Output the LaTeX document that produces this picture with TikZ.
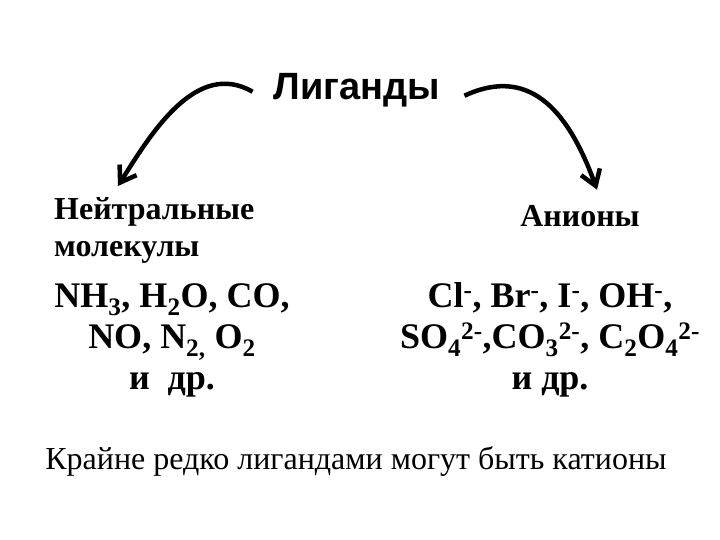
\documentclass[tikz,border=0pt]{standalone}
\usepackage{fontspec}
\setmainfont{Liberation Serif}
\newfontfamily\ligsans{Liberation Sans}
\usetikzlibrary{positioning,arrows.meta}

\newcommand{\sub}[1]{\textsubscript{#1}}
\newcommand{\sups}[1]{\textsuperscript{#1}}

\begin{document}
\begin{tikzpicture}[x=1pt, y=-1pt, inner sep=0pt,
    formula/.style={font=\fontsize{36}{41}\selectfont\bfseries, align=center},
    group/.style={font=\fontsize{32}{37}\selectfont\bfseries},
    ligarrow/.style={line width=4.5pt, -{Straight Barb[length=15pt,width=20pt]}}]
  \useasboundingbox (0,0) rectangle (720,540);
  \node[font=\ligsans\fontsize{38}{44}\selectfont\bfseries, anchor=base] (ligands) at (357,100) {Лиганды};%
  \node[group, align=left, anchor=north west] (neutral) at (54,197) {Нейтральные\\молекулы};%
  \node[group, anchor=base] (anions) at (580,226) {Анионы};%
  \node[formula] (neutlist) at (172,340) {NH\sub{3}, H\sub{2}O, CO,\\NO, N\sub{2,} O\sub{2}\\и~ др.};%
  \node[formula] (anlist) at (550,340) {Cl\sups{-}, Br\sups{-}, I\sups{-}, OH\sups{-},\\%
    SO\sub{4}\sups{2-},CO\sub{3}\sups{2-}, C\sub{2}O\sub{4}\sups{2-}\\и др.};%
  \node[font=\fontsize{32}{37}\selectfont, anchor=base] (rare) at (356,469) {Крайне редко лигандами могут быть катионы};%
  \draw[ligarrow] ([xshift=-21pt,yshift=-1pt]ligands.west) to[out=150,in=58] ([xshift=64pt,yshift=11pt]neutral.north west);%
  \draw[ligarrow] ([xshift=24pt,yshift=-5pt]ligands.east) to[out=25,in=110,looseness=1.2] ([xshift=17pt,yshift=15pt]anions.north);%
\end{tikzpicture}
\end{document}
